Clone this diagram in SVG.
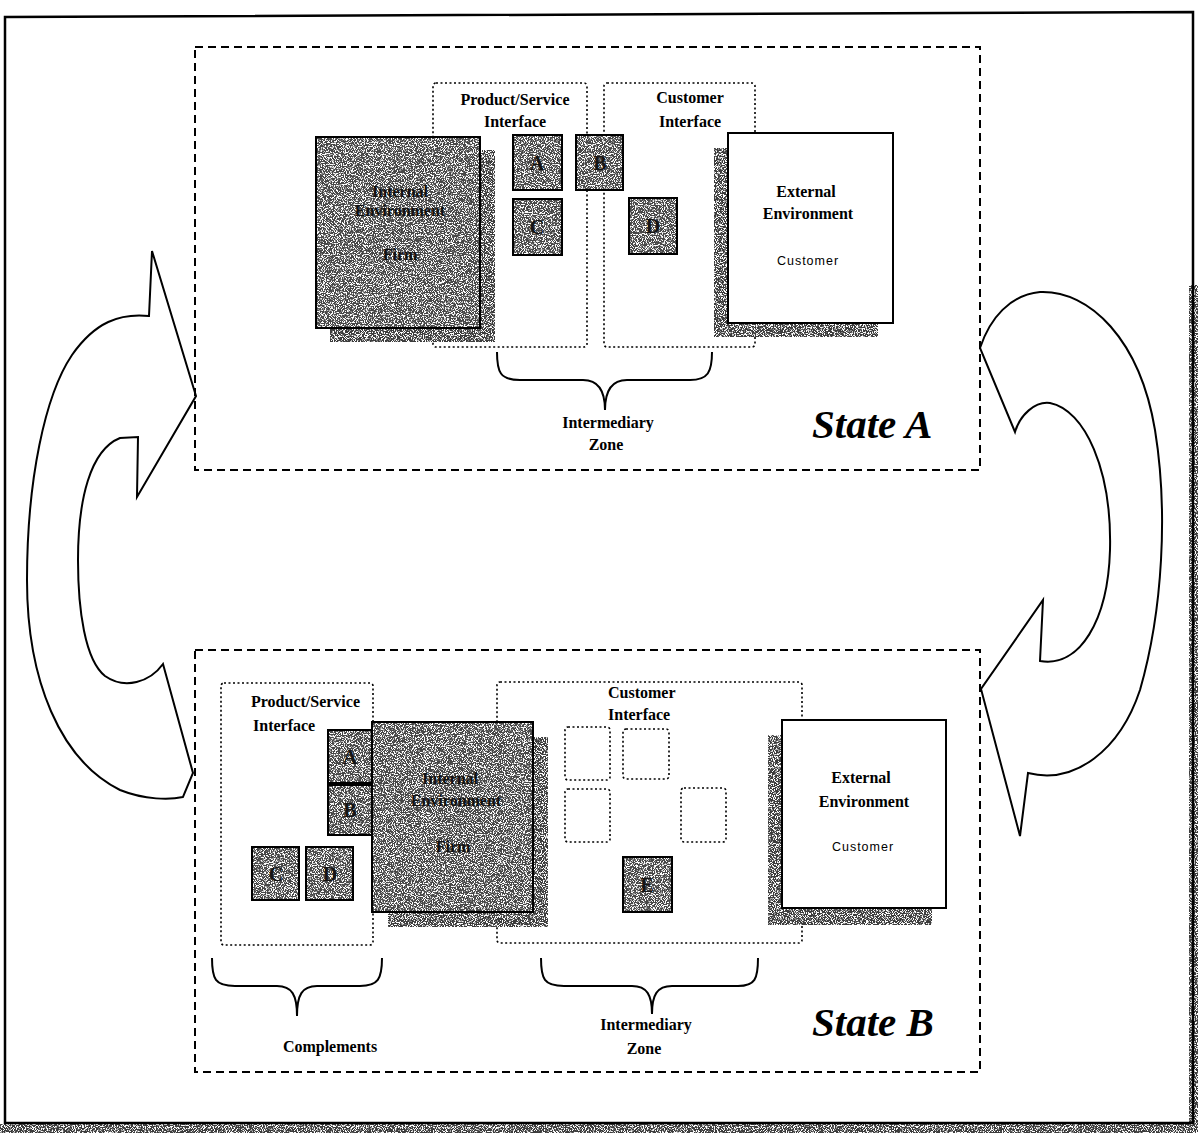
<svg xmlns="http://www.w3.org/2000/svg" width="1198" height="1133" viewBox="0 0 1198 1133">
<defs>
<filter id="spk" x="0" y="0" width="1" height="1" color-interpolation-filters="sRGB">
<feTurbulence type="fractalNoise" baseFrequency="0.9" numOctaves="2" seed="7" result="t"/>
<feColorMatrix in="t" type="matrix" values="0 0 0 0 1  0 0 0 0 1  0 0 0 0 1  9 0 0 0 -4.4" result="w"/>
<feComposite in="w" in2="SourceGraphic" operator="in" result="wi"/>
<feMerge><feMergeNode in="SourceGraphic"/><feMergeNode in="wi"/></feMerge>
</filter>
<style>
.state{fill:none;stroke:#000;stroke-width:2;stroke-dasharray:8 5}
.dot{fill:none;stroke:#000;stroke-width:1.6;stroke-dasharray:2 2.5}
.dark{fill:#474747;filter:url(#spk)}
.shadow{fill:#3c3c3c;filter:url(#spk)}
.edge{fill:none;stroke:#000;stroke-width:2}
.white{fill:#fff;stroke:#000;stroke-width:2}
.lbl{font-family:"Liberation Serif","Times New Roman",serif;font-weight:bold;font-size:16px;fill:#000}
.inner{font-family:"Liberation Serif","Times New Roman",serif;font-weight:bold;font-size:16px;fill:#111}
.letter{font-family:"Liberation Serif","Times New Roman",serif;font-weight:bold;font-size:20px;fill:#151515;text-anchor:middle}
.cust{font-family:"Liberation Sans",Arial,sans-serif;font-size:12.5px;letter-spacing:1px;fill:#000;text-anchor:middle}
.title{font-family:"Liberation Serif","Times New Roman",serif;font-weight:bold;font-style:italic;font-size:41px;fill:#000}
.brace{fill:none;stroke:#000;stroke-width:2}
.arrow{fill:#fff;stroke:#000;stroke-width:2;stroke-linejoin:miter}
</style>
</defs>
<rect width="1198" height="1133" fill="#fff"/>

<g id="frame">
<rect x="1189" y="285" width="9" height="848" class="shadow"/>
<rect x="0" y="1124" width="1198" height="9" class="shadow"/>
<path d="M5,17 L1193,12 L1193,1123 L5,1123 Z" fill="none" stroke="#000" stroke-width="2.5"/>
</g>

<g id="connectors">
<path class="arrow" d="M196,396 L152,251 L149,316 C120,313 95,322 72,355 C45,395 27,480 27,580 C27,680 60,760 120,790 C145,800 170,800 183,797 L193,773 L163,664 C150,682 125,690 105,676 C85,660 78,610 78,560 C78,500 90,450 120,438 L138,437 L137,497 Z"/>
<path class="arrow" d="M980,348 C990,318 1010,295 1040,292 C1090,290 1140,340 1155,430 C1168,510 1163,610 1140,690 C1120,750 1075,785 1028,773 L1020,836 L981,689 L1043,600 L1040,661 C1080,668 1108,620 1110,550 C1112,470 1085,410 1050,403 C1035,401 1020,415 1015,432 Z"/>
</g>

<g id="stateA">
<rect class="state" x="195" y="47" width="785" height="423"/>
<g id="a-product-interface">
<rect class="dot" x="433" y="83" width="154" height="264" rx="3"/>
<text class="lbl" x="515" y="105" text-anchor="middle">Product/Service</text>
<text class="lbl" x="515" y="127" text-anchor="middle">Interface</text>
</g>
<g id="a-customer-interface">
<rect class="dot" x="604" y="83" width="151" height="264" rx="3"/>
<text class="lbl" x="690" y="103" text-anchor="middle">Customer</text>
<text class="lbl" x="690" y="127" text-anchor="middle">Interface</text>
</g>
<g id="a-internal">
<rect class="shadow" x="330" y="150" width="165" height="192"/>
<rect class="dark" x="316" y="137" width="164" height="191"/>
<rect class="edge" x="316" y="137" width="164" height="191"/>
<text class="inner" x="400" y="197" text-anchor="middle">Internal</text>
<text class="inner" x="400" y="216" text-anchor="middle">Environment</text>
<text class="inner" x="400" y="260" text-anchor="middle">Firm</text>
</g>
<g id="a-A"><rect class="dark" x="513" y="135" width="49" height="55"/><rect class="edge" x="513" y="135" width="49" height="55"/><text class="letter" x="537" y="170">A</text></g>
<g id="a-B"><rect class="dark" x="576" y="135" width="47" height="55"/><rect class="edge" x="576" y="135" width="47" height="55"/><text class="letter" x="600" y="170">B</text></g>
<g id="a-C"><rect class="dark" x="513" y="199" width="49" height="56"/><rect class="edge" x="513" y="199" width="49" height="56"/><text class="letter" x="537" y="234">C</text></g>
<g id="a-D"><rect class="dark" x="629" y="198" width="48" height="56"/><rect class="edge" x="629" y="198" width="48" height="56"/><text class="letter" x="653" y="233">D</text></g>
<g id="a-external">
<rect class="shadow" x="714" y="148" width="164" height="189"/>
<rect class="white" x="728" y="133" width="165" height="190"/>
<text class="lbl" x="806" y="197" text-anchor="middle">External</text>
<text class="lbl" x="808" y="219" text-anchor="middle">Environment</text>
<text class="cust" x="808" y="265">Customer</text>
</g>
<g id="a-zone">
<path class="brace" d="M497,352 C497,372 500,380 520,380 L583,380 C598,380 605,390 605,410 C605,390 612,380 627,380 L690,380 C708,380 712,372 712,352"/>
<text class="lbl" x="608" y="428" text-anchor="middle">Intermediary</text>
<text class="lbl" x="606" y="450" text-anchor="middle">Zone</text>
</g>
<text class="title" x="812" y="438">State A</text>
</g>

<g id="stateB">
<rect class="state" x="195" y="650" width="785" height="422"/>
<g id="b-product-interface">
<rect class="dot" x="221" y="683" width="152" height="262" rx="3"/>
<text class="lbl" x="251" y="707">Product/Service</text>
<text class="lbl" x="253" y="731">Interface</text>
</g>
<g id="b-customer-interface">
<rect class="dot" x="497" y="682" width="305" height="261" rx="3"/>
<text class="lbl" x="608" y="698">Customer</text>
<text class="lbl" x="608" y="720">Interface</text>
<rect class="dot" x="565" y="727" width="45" height="53" rx="3"/>
<rect class="dot" x="623" y="729" width="46" height="50" rx="3"/>
<rect class="dot" x="565" y="789" width="45" height="53" rx="3"/>
<rect class="dot" x="681" y="788" width="45" height="54" rx="3"/>
</g>
<g id="b-A"><rect class="dark" x="328" y="730" width="50" height="53"/><rect class="edge" x="328" y="730" width="50" height="53"/><text class="letter" x="350" y="764">A</text></g>
<g id="b-B"><rect class="dark" x="328" y="785" width="50" height="50"/><rect class="edge" x="328" y="785" width="50" height="50"/><text class="letter" x="350" y="817">B</text></g>
<g id="b-C"><rect class="dark" x="252" y="847" width="47" height="53"/><rect class="edge" x="252" y="847" width="47" height="53"/><text class="letter" x="276" y="881">C</text></g>
<g id="b-D"><rect class="dark" x="306" y="847" width="47" height="53"/><rect class="edge" x="306" y="847" width="47" height="53"/><text class="letter" x="330" y="881">D</text></g>
<g id="b-internal">
<rect class="shadow" x="388" y="737" width="160" height="190"/>
<rect class="dark" x="372" y="722" width="161" height="190"/>
<rect class="edge" x="372" y="722" width="161" height="190"/>
<text class="inner" x="450" y="784" text-anchor="middle">Internal</text>
<text class="inner" x="456" y="806" text-anchor="middle">Environment</text>
<text class="inner" x="453" y="852" text-anchor="middle">Firm</text>
</g>
<g id="b-E"><rect class="dark" x="623" y="857" width="49" height="55"/><rect class="edge" x="623" y="857" width="49" height="55"/><text class="letter" x="647" y="892">E</text></g>
<g id="b-external">
<rect class="shadow" x="768" y="735" width="164" height="190"/>
<rect class="white" x="782" y="720" width="164" height="188"/>
<text class="lbl" x="861" y="783" text-anchor="middle">External</text>
<text class="lbl" x="864" y="807" text-anchor="middle">Environment</text>
<text class="cust" x="863" y="851">Customer</text>
</g>
<g id="b-complements">
<path class="brace" d="M212,958 C212,979 215,986 235,986 L277,986 C292,986 297,995 297,1016 C297,995 302,986 317,986 L360,986 C378,986 382,979 382,958"/>
<text class="lbl" x="330" y="1052" text-anchor="middle">Complements</text>
</g>
<g id="b-zone">
<path class="brace" d="M541,958 C541,979 544,986 564,986 L632,986 C647,986 652,995 652,1014 C652,995 657,986 672,986 L738,986 C755,986 758,979 758,958"/>
<text class="lbl" x="646" y="1030" text-anchor="middle">Intermediary</text>
<text class="lbl" x="644" y="1054" text-anchor="middle">Zone</text>
</g>
<text class="title" x="812" y="1036">State B</text>
</g>
</svg>
